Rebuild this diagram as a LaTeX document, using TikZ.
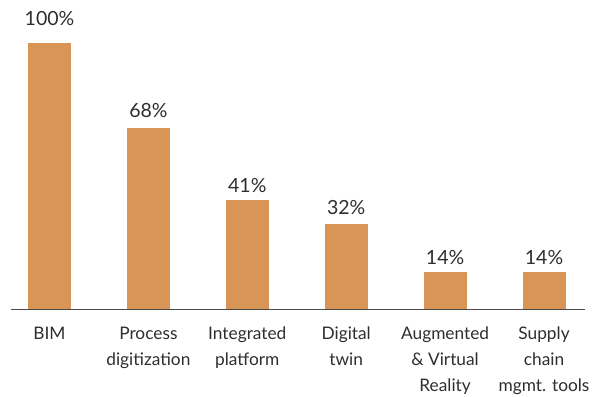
\documentclass[tikz,border=0pt]{standalone}
\usepackage{fontspec}
\setmainfont{Lato}
\usetikzlibrary{positioning}
\definecolor{BarOrange}{HTML}{D99555}
\definecolor{TextGray}{HTML}{2E2E2E}
\definecolor{AxisGray}{HTML}{4A4A4A}
\tikzstyle{Bar} = [fill=BarOrange, draw=none, inner sep=0pt, minimum width=43pt, anchor=south]
\tikzstyle{Value} = [font=\fontsize{19.5}{20}\selectfont, text=TextGray, anchor=base, inner sep=0pt]
\tikzstyle{Label} = [font=\fontsize{17.3}{26}\selectfont, text=TextGray, align=center, anchor=north, inner sep=0pt]

\begin{document}
\begin{tikzpicture}[x=1pt, y=-1pt]
    \useasboundingbox (0,0) rectangle (607,396);
    % bars: index / height / value label baseline / value / category
    \foreach \i/\h/\v/\val/\cat in {
        0/266/26/100/BIM,
        1/181/117/68/{Process\\digitization},
        2/109/192/41/{Integrated\\platform},
        3/85/214/32/{Digital\\twin},
        4/37/264/14/{Augmented\\\& Virtual\\Reality},
        5/37/264/14/{Supply\\chain\\mgmt. tools}} {
      \node[Bar, minimum height=\h pt] (bar\i) at (49.5+98.9*\i, 309) {};
      \node[Value] (val\i) at (49.5+98.9*\i, \v) {\val\%};
      \node[Label] (cat\i) at (49.5+98.9*\i, 327) {\cat};
    }
    \coordinate (axisL) at (11, 309.5);
    \coordinate (axisR) at (585, 309.5);
    \draw[AxisGray, line width=1.5pt] (axisL) -- (axisR);
\end{tikzpicture}
\end{document}
